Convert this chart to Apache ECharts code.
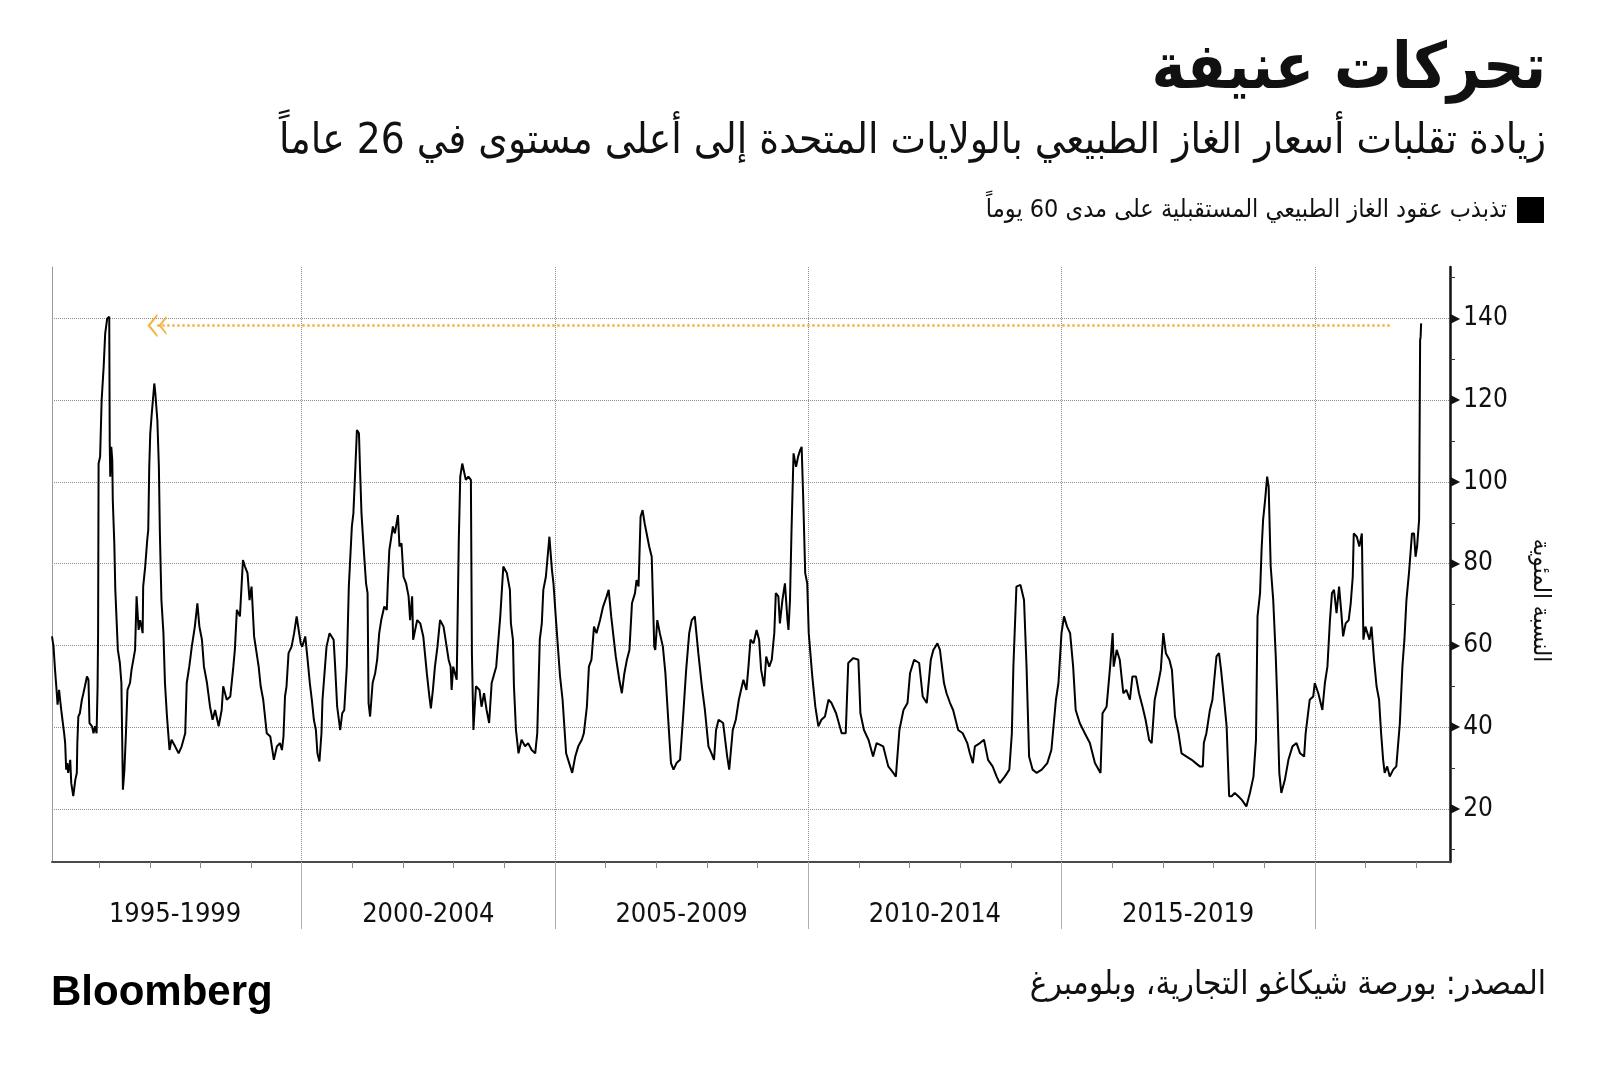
<!DOCTYPE html>
<html>
<head>
<meta charset="utf-8">
<script src="https://cdn.jsdelivr.net/npm/echarts@6/dist/echarts.min.js"></script>
<style>
html,body{margin:0;padding:0;background:#fff;}
#chart{width:1600px;height:1069px;}
</style>
</head>
<body>
<div id="chart" dir="rtl"></div>
<script>
// ---------- texts ----------
const titleText = 'تحركات عنيفة';
const subtitleText = 'زيادة تقلبات أسعار الغاز الطبيعي بالولايات المتحدة إلى أعلى مستوى في 26 عاماً';
const seriesName = 'تذبذب عقود الغاز الطبيعي المستقبلية على مدى 60 يوماً';
const sourceText = 'المصدر: بورصة شيكاغو التجارية، وبلومبرغ';
const yAxisName = 'النسبة المئوية';
const brandText = 'Bloomberg';

// ---------- axes ----------
const periodLabels = ['1995-1999', '2000-2004', '2005-2009', '2010-2014', '2015-2019'];
const periodCenters = [1997.5, 2002.5, 2007.5, 2012.5, 2017.5];
const periodBoundaries = [2000, 2005, 2010, 2015, 2020];
const yearTicks = [1996, 1997, 1998, 1999, 2000, 2001, 2002, 2003, 2004, 2005, 2006, 2007, 2008, 2009,
  2010, 2011, 2012, 2013, 2014, 2015, 2016, 2017, 2018, 2019, 2020, 2021, 2022];
const yMajorTicks = [20, 40, 60, 80, 100, 120, 140];
const yMinorTicks = [10, 30, 50, 70, 90, 110, 130, 150];
const xRange = [1995.07, 2022.67];
const yRange = [7, 152.6];

// ---------- annotation: arrow back to the 1996 high ----------
const arrowLevel = 138.3;
const arrowFromYear = 2021.48;
const arrowToYear = 1997.14;

// ---------- data: 60-day volatility [decimal year, %] ----------
const vol1995_1999 = [[1995.07,62.2],[1995.10,59.7],[1995.13,54.0],[1995.16,49.1],[1995.18,45.5],[1995.21,49.1],[1995.23,46.7],[1995.26,43.4],[1995.31,38.5],[1995.33,36.1],[1995.35,29.6],[1995.37,31.2],[1995.39,28.8],[1995.43,32.0],[1995.45,26.3],[1995.47,24.7],[1995.49,23.1],[1995.53,27.1],[1995.56,28.8],[1995.57,36.1],[1995.59,42.6],[1995.62,43.4],[1995.66,46.7],[1995.69,48.3],[1995.72,50.0],[1995.76,52.4],[1995.79,51.6],[1995.81,41.0],[1995.86,40.2],[1995.89,38.5],[1995.92,40.2],[1995.95,38.5],[1995.97,50.0],[1995.98,63.0],[1995.99,104.5],[1996.02,106.2],[1996.05,120.0],[1996.09,128.2],[1996.12,136.3],[1996.16,140.0],[1996.20,140.4],[1996.21,109.4],[1996.22,101.3],[1996.24,108.6],[1996.26,105.4],[1996.27,95.6],[1996.30,85.0],[1996.32,73.6],[1996.37,58.9],[1996.41,55.7],[1996.44,50.8],[1996.47,24.7],[1996.50,29.6],[1996.53,38.5],[1996.56,49.1],[1996.61,50.8],[1996.64,54.0],[1996.71,58.9],[1996.74,72.0],[1996.78,63.8],[1996.81,66.2],[1996.86,63.0],[1996.87,74.4],[1996.91,79.3],[1996.95,85.8],[1996.97,88.2],[1996.99,103.7],[1997.01,111.9],[1997.04,116.8],[1997.09,124.1],[1997.11,121.7],[1997.15,115.1],[1997.18,103.7],[1997.20,87.4],[1997.23,71.1],[1997.27,63.0],[1997.30,50.8],[1997.34,42.6],[1997.39,34.4],[1997.43,36.9],[1997.50,35.3],[1997.57,33.6],[1997.63,35.3],[1997.70,38.5],[1997.73,50.8],[1997.78,54.8],[1997.83,59.7],[1997.89,64.6],[1997.94,70.3],[1997.98,64.6],[1998.03,61.4],[1998.07,54.8],[1998.13,50.8],[1998.19,45.0],[1998.24,41.8],[1998.29,44.2],[1998.36,40.2],[1998.42,44.2],[1998.45,50.0],[1998.52,46.7],[1998.59,47.5],[1998.65,54.8],[1998.68,58.9],[1998.72,68.7],[1998.78,67.1],[1998.84,80.9],[1998.88,79.3],[1998.93,77.7],[1998.97,71.1],[1999.01,74.4],[1999.06,62.2],[1999.10,58.9],[1999.15,54.8],[1999.19,50.0],[1999.24,46.7],[1999.31,38.5],[1999.38,37.7],[1999.45,32.0],[1999.51,35.3],[1999.57,36.1],[1999.61,34.4],[1999.64,37.7],[1999.67,47.5],[1999.70,50.0],[1999.74,58.1],[1999.80,59.7],[1999.85,63.0],[1999.90,67.1],[1999.93,64.6],[1999.98,60.5]];
const vol2000_2004 = [[2000.01,59.7],[2000.07,62.2],[2000.11,57.3],[2000.16,50.8],[2000.20,46.7],[2000.24,41.8],[2000.28,39.3],[2000.31,33.6],[2000.35,31.6],[2000.39,38.5],[2000.41,46.7],[2000.46,54.8],[2000.49,59.7],[2000.55,63.0],[2000.59,62.2],[2000.63,61.4],[2000.66,54.8],[2000.70,45.0],[2000.76,39.3],[2000.80,43.4],[2000.84,44.2],[2000.89,54.8],[2000.93,74.4],[2000.95,79.3],[2000.99,89.1],[2001.02,92.3],[2001.06,103.7],[2001.09,112.7],[2001.13,111.9],[2001.15,103.7],[2001.18,92.3],[2001.23,82.5],[2001.27,75.2],[2001.30,72.8],[2001.32,45.9],[2001.35,42.6],[2001.40,50.8],[2001.45,53.2],[2001.49,56.5],[2001.53,63.0],[2001.57,66.2],[2001.63,69.5],[2001.68,68.7],[2001.70,75.2],[2001.73,83.4],[2001.76,85.8],[2001.80,89.1],[2001.84,87.4],[2001.90,91.9],[2001.93,84.2],[2001.97,85.0],[2002.01,76.8],[2002.06,75.2],[2002.11,72.0],[2002.14,66.2],[2002.18,72.0],[2002.20,61.4],[2002.24,63.8],[2002.28,66.2],[2002.34,65.4],[2002.40,62.2],[2002.47,53.2],[2002.52,47.5],[2002.55,44.6],[2002.59,49.1],[2002.63,54.8],[2002.68,59.7],[2002.73,66.2],[2002.80,64.6],[2002.84,61.4],[2002.90,56.5],[2002.94,54.8],[2002.96,49.1],[2002.99,54.8],[2003.06,51.6],[2003.10,85.0],[2003.13,101.3],[2003.17,104.5],[2003.24,100.5],[2003.29,101.3],[2003.34,100.5],[2003.36,58.1],[2003.39,39.3],[2003.44,50.0],[2003.51,49.1],[2003.55,45.0],[2003.60,48.3],[2003.65,44.2],[2003.70,41.0],[2003.75,50.8],[2003.84,54.8],[2003.92,67.1],[2003.98,79.3],[2004.05,77.7],[2004.11,73.6],[2004.13,65.4],[2004.17,61.4],[2004.19,50.0],[2004.23,39.3],[2004.28,33.6],[2004.34,36.9],[2004.41,35.3],[2004.47,36.1],[2004.54,34.4],[2004.61,33.6],[2004.65,38.5],[2004.70,61.4],[2004.74,65.4],[2004.77,73.6],[2004.82,76.8],[2004.89,86.6],[2004.94,78.5],[2004.97,75.2]];
const vol2005_2009 = [[2005.02,66.2],[2005.10,52.4],[2005.15,46.7],[2005.22,33.6],[2005.28,31.2],[2005.34,28.8],[2005.40,32.8],[2005.46,35.3],[2005.53,36.9],[2005.57,38.5],[2005.63,45.0],[2005.67,54.8],[2005.72,56.5],[2005.77,64.6],[2005.82,63.0],[2005.89,66.2],[2005.95,69.5],[2006.02,72.0],[2006.06,73.6],[2006.11,67.1],[2006.20,57.3],[2006.27,51.6],[2006.32,48.3],[2006.37,53.2],[2006.42,56.5],[2006.47,58.9],[2006.52,70.3],[2006.58,72.8],[2006.61,76.0],[2006.65,74.4],[2006.69,91.5],[2006.73,93.1],[2006.77,89.9],[2006.81,87.4],[2006.86,84.2],[2006.91,81.7],[2006.96,59.7],[2006.98,58.9],[2007.02,66.2],[2007.07,63.0],[2007.13,59.7],[2007.18,53.2],[2007.24,41.0],[2007.29,31.2],[2007.34,29.6],[2007.40,31.2],[2007.47,32.0],[2007.53,42.6],[2007.59,54.0],[2007.65,63.0],[2007.70,66.2],[2007.76,67.1],[2007.83,58.1],[2007.90,50.0],[2007.96,44.2],[2008.03,35.3],[2008.09,33.6],[2008.14,32.0],[2008.18,39.3],[2008.23,41.8],[2008.32,41.0],[2008.40,32.8],[2008.44,29.6],[2008.51,39.3],[2008.57,41.8],[2008.63,46.7],[2008.69,50.0],[2008.72,51.6],[2008.78,49.1],[2008.82,54.8],[2008.86,61.4],[2008.92,60.5],[2008.98,63.8],[2009.03,61.4],[2009.07,54.0],[2009.13,50.0],[2009.17,57.3],[2009.23,54.8],[2009.28,56.5],[2009.31,60.5],[2009.33,63.0],[2009.36,72.8],[2009.41,72.0],[2009.44,65.4],[2009.49,71.1],[2009.54,75.2],[2009.59,66.2],[2009.61,63.8],[2009.64,71.1],[2009.67,88.2],[2009.71,107.0],[2009.76,103.7],[2009.80,106.2],[2009.84,107.8],[2009.87,108.6],[2009.90,96.4],[2009.94,77.7],[2009.98,75.2]];
const vol2010_2014 = [[2010.01,63.0],[2010.08,52.4],[2010.14,45.0],[2010.20,40.2],[2010.26,41.8],[2010.33,42.6],[2010.40,46.7],[2010.46,45.9],[2010.55,43.4],[2010.66,38.5],[2010.74,38.5],[2010.79,55.7],[2010.89,56.9],[2010.99,56.5],[2011.03,43.4],[2011.10,39.3],[2011.19,36.9],[2011.28,32.8],[2011.35,36.1],[2011.48,35.3],[2011.58,30.4],[2011.68,28.8],[2011.73,27.9],[2011.80,39.3],[2011.88,44.2],[2011.96,45.9],[2012.01,53.2],[2012.09,56.5],[2012.19,55.7],[2012.26,47.5],[2012.34,45.9],[2012.42,56.5],[2012.47,58.9],[2012.55,60.5],[2012.60,58.9],[2012.68,50.8],[2012.73,48.3],[2012.80,45.9],[2012.86,44.2],[2012.96,39.3],[2013.05,38.5],[2013.14,36.1],[2013.19,33.6],[2013.25,31.2],[2013.29,35.3],[2013.39,36.1],[2013.47,36.9],[2013.55,32.0],[2013.64,30.4],[2013.72,27.9],[2013.78,26.3],[2013.88,27.9],[2013.97,29.6],[2014.02,38.5],[2014.05,54.8],[2014.11,74.4],[2014.19,74.8],[2014.26,71.1],[2014.31,54.8],[2014.36,32.8],[2014.43,29.6],[2014.51,28.8],[2014.61,29.6],[2014.72,31.2],[2014.80,34.4],[2014.89,46.7],[2014.94,50.8]];
const vol2015_2019 = [[2015.00,63.0],[2015.05,67.1],[2015.11,64.6],[2015.17,63.0],[2015.23,54.8],[2015.28,44.2],[2015.36,41.0],[2015.46,38.5],[2015.56,36.1],[2015.66,31.2],[2015.77,28.8],[2015.81,43.4],[2015.89,45.0],[2015.96,54.8],[2016.01,63.0],[2016.03,54.8],[2016.09,58.9],[2016.15,56.5],[2016.22,48.3],[2016.28,49.1],[2016.35,46.7],[2016.40,52.4],[2016.47,52.4],[2016.53,48.3],[2016.60,45.0],[2016.66,41.8],[2016.73,36.9],[2016.78,36.1],[2016.84,46.7],[2016.91,50.8],[2016.96,54.0],[2017.01,63.0],[2017.06,58.1],[2017.13,56.5],[2017.18,54.0],[2017.24,42.6],[2017.31,38.5],[2017.37,33.6],[2017.47,32.8],[2017.57,32.0],[2017.65,31.2],[2017.73,30.4],[2017.79,30.4],[2017.81,36.1],[2017.86,38.5],[2017.93,44.2],[2017.98,46.7],[2018.01,50.8],[2018.06,57.3],[2018.11,58.1],[2018.15,54.0],[2018.21,46.7],[2018.26,40.2],[2018.31,23.1],[2018.36,23.1],[2018.42,23.9],[2018.49,23.1],[2018.56,22.2],[2018.65,20.6],[2018.72,23.9],[2018.79,27.9],[2018.84,36.9],[2018.87,67.1],[2018.92,72.8],[2018.95,83.4],[2018.98,90.7],[2019.02,95.6],[2019.06,101.3],[2019.09,98.8],[2019.13,79.3],[2019.18,71.1],[2019.23,57.3],[2019.26,46.7],[2019.30,28.8],[2019.34,23.9],[2019.41,27.1],[2019.48,32.0],[2019.56,35.3],[2019.64,36.1],[2019.71,33.6],[2019.79,32.8],[2019.82,38.5],[2019.90,46.7],[2019.97,47.5]];
const vol2020_2022 = [[2020.00,50.8],[2020.07,48.3],[2020.15,44.2],[2020.20,50.8],[2020.25,54.8],[2020.30,66.2],[2020.34,72.8],[2020.38,73.6],[2020.43,67.9],[2020.48,74.4],[2020.52,68.7],[2020.56,62.2],[2020.61,65.4],[2020.67,66.2],[2020.71,70.3],[2020.75,76.8],[2020.77,87.4],[2020.83,86.6],[2020.88,84.2],[2020.93,87.4],[2020.96,61.4],[2021.00,64.6],[2021.08,61.4],[2021.12,64.6],[2021.17,56.5],[2021.22,50.0],[2021.27,46.7],[2021.31,38.5],[2021.35,32.0],[2021.38,28.8],[2021.43,30.4],[2021.48,27.9],[2021.55,29.6],[2021.61,30.4],[2021.68,41.0],[2021.73,54.8],[2021.77,61.4],[2021.81,71.1],[2021.86,77.7],[2021.92,87.4],[2021.96,87.4],[2021.99,81.7],[2022.02,84.2],[2022.06,90.7],[2022.08,134.7],[2022.09,135.5],[2022.10,138.8]];

const volatility = [].concat(vol1995_1999, vol2000_2004, vol2005_2009, vol2010_2014, vol2015_2019, vol2020_2022);

// ---------- styling ----------
const AR = '"DejaVu Sans Condensed", "DejaVu Sans", sans-serif';
const NUM = '"DejaVu Sans Condensed", "DejaVu Sans", sans-serif';
const GRID_GRAY = '#8c8c8c';
const chevron = 'path://M0,9 L10,0 L20,9 L17.5,9 L10,2.6 L2.5,9 Z M2,17 L10,10 L18,17 L15.6,17 L10,12.3 L4.4,17 Z';

const chart = echarts.init(document.getElementById('chart'), null, {renderer: 'canvas'});

const option = {
  animation: false,
  backgroundColor: '#ffffff',
  title: [
    {text: titleText, right: 54, top: 39, padding: 0,
     textStyle: {fontFamily: AR, fontSize: 64, fontWeight: 'bold', color: '#111'}},
    {text: subtitleText, right: 54, top: 121, padding: 0,
     textStyle: {fontFamily: AR, fontSize: 42, fontWeight: 'normal', color: '#111'}},
    {text: sourceText, right: 54, top: 969, padding: 0,
     textStyle: {fontFamily: AR, fontSize: 33, fontWeight: 'normal', color: '#111'}},
    {text: brandText, left: 51, top: 972, padding: 0,
     textStyle: {fontFamily: '"Liberation Sans", Arial, sans-serif', fontSize: 42, fontWeight: 'bold', color: '#000'}}
  ],
  legend: {
    right: 56, top: 197, padding: 0,
    align: 'right', icon: 'rect', itemWidth: 27, itemHeight: 26,
    selectedMode: false,
    textStyle: {fontFamily: AR, fontSize: 25, color: '#111', padding: [0, 5, 0, 0]},
    data: [seriesName]
  },
  grid: {left: 52, right: 150, top: 267, bottom: 207, containLabel: false, outerBoundsMode: 'none'},
  xAxis: [
    {
      type: 'value', min: xRange[0], max: xRange[1], position: 'bottom',
      axisLine: {show: true, onZero: false, lineStyle: {color: '#4a4a4a', width: 2}},
      axisTick: {show: true, customValues: yearTicks, length: 6, lineStyle: {color: '#888', width: 1}},
      axisLabel: {show: false},
      splitLine: {show: false}
    },
    {
      type: 'value', min: xRange[0], max: xRange[1], position: 'bottom',
      axisLine: {show: false, onZero: false},
      axisTick: {show: true, customValues: periodBoundaries, length: 67, lineStyle: {color: '#b0b0b0', width: 1}},
      axisLabel: {show: true, customValues: periodCenters, margin: 39,
        formatter: v => periodLabels[periodCenters.indexOf(v)],
        fontFamily: NUM, fontSize: 27, color: '#111'},
      splitLine: {show: true, lineStyle: {color: GRID_GRAY, type: 'dotted', width: 1}}
    }
  ],
  yAxis: [
    {
      type: 'value', min: yRange[0], max: yRange[1], position: 'right',
      name: yAxisName, nameLocation: 'middle', nameRotate: -90, nameGap: 78,
      nameTextStyle: {fontFamily: AR, fontSize: 24, color: '#111', padding: [0, 0, 0, 72]},
      axisLine: {show: true, onZero: false, lineStyle: {color: '#111', width: 2.5}},
      axisTick: {show: false, customValues: yMajorTicks},
      axisLabel: {show: true, customValues: yMajorTicks, margin: 1,
        formatter: v => '{t|▶}{n|' + v + '}',
        rich: {
          t: {fontFamily: '"DejaVu Sans", sans-serif', fontSize: 12, color: '#111', verticalAlign: 'middle'},
          n: {fontFamily: NUM, fontSize: 26, color: '#111', padding: [0, 0, 0, 3], verticalAlign: 'middle'}
        }},
      splitLine: {show: true, lineStyle: {color: GRID_GRAY, type: 'dotted', width: 1}}
    },
    {
      type: 'value', min: yRange[0], max: yRange[1], position: 'right',
      axisLine: {show: false, onZero: false},
      axisTick: {show: true, customValues: yMinorTicks, length: 5, lineStyle: {color: '#333', width: 1}},
      axisLabel: {show: false},
      splitLine: {show: false}
    },
    {
      type: 'value', min: yRange[0], max: yRange[1], position: 'left',
      axisLine: {show: true, onZero: false, lineStyle: {color: '#9a9a9a', width: 1}},
      axisTick: {show: false}, axisLabel: {show: false}, splitLine: {show: false}
    }
  ],
  series: [
    {
      name: seriesName, type: 'line', xAxisIndex: 0, yAxisIndex: 0,
      data: volatility, showSymbol: false, symbol: 'none',
      lineStyle: {color: '#000', width: 2}, itemStyle: {color: '#000'},
      markLine: {
        silent: true, animation: false,
        symbol: ['none', chevron], symbolSize: [24, 19],
        label: {show: false},
        lineStyle: {color: '#f5a623', type: 'dotted', width: 2.5, opacity: 0.85},
        itemStyle: {color: '#f5a623'},
        data: [[{coord: [arrowFromYear, arrowLevel]}, {coord: [arrowToYear, arrowLevel]}]]
      }
    }
  ]
};
chart.setOption(option);
</script>
</body>
</html>
